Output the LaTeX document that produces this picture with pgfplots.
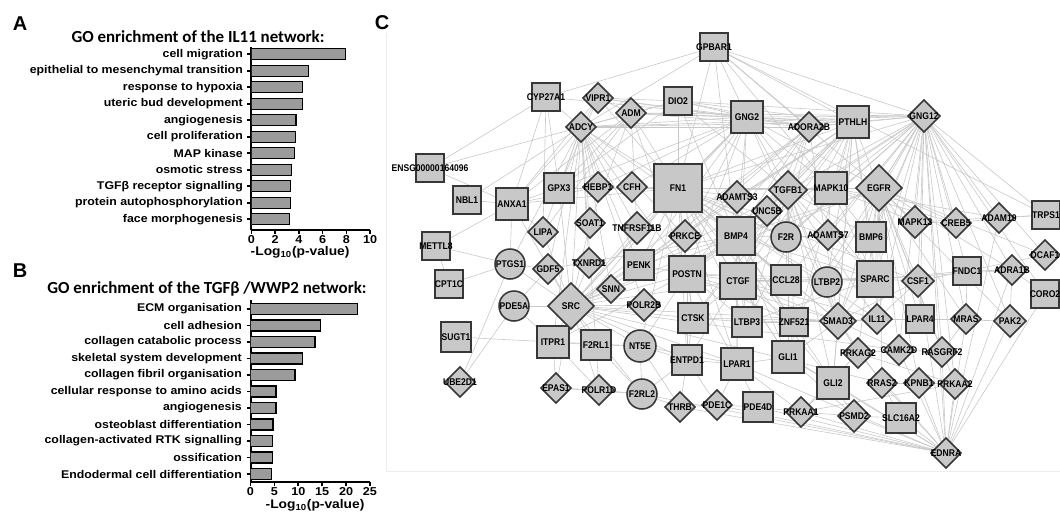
\documentclass[border=0pt]{standalone}
\usepackage{fontspec}
\setmainfont{Liberation Sans}
\newfontfamily\titlefont{Carlito}
\newfontfamily\barfam{Liberation Sans}[FakeStretch=1.1]
\newfontfamily\netfam{Liberation Sans}[FakeStretch=0.88]
\usepackage{pgfplots}
\usepackage{pgfplotstable}
\pgfplotsset{compat=1.18}
\definecolor{barcol}{RGB}{155,155,155}
\definecolor{nodefill}{RGB}{200,200,200}
\definecolor{nodedraw}{RGB}{55,55,55}
\definecolor{edgecol}{RGB}{200,200,200}
\newcommand\catfont{\barfam\bfseries\fontsize{8.4}{9}\selectfont}
\newcommand\tickfont{\barfam\bfseries\fontsize{8.6}{10}\selectfont}
\newcommand\xlabfont{\barfam\bfseries\fontsize{9.4}{10}\selectfont}
\newcommand\netfont{\netfam\bfseries\fontsize{7.3}{8}\selectfont}
\newcommand\letterfont{\bfseries\fontsize{15}{17}\selectfont}
\newcommand\ttlfont{\titlefont\bfseries\fontsize{12.7}{14}\selectfont}

% network nodes: x y (pixels), s = half size (px), label
\pgfplotstableread{
x y s label
546 97 14 CYP27A1
678 101 14 DIO2
747 117 16 GNG2
467 200 14 NBL1
512 204 16 ANXA1
559 188 15 GPX3
678 188 24 FN1
831 188 16 MAPK10
1046 215 14 TRPS1
736 236 19 BMP4
871 237 15 BMP6
449 284 14 CPT1C
639 265 15 PENK
687 274 18 POSTN
738 281 18 CTGF
786 280 15 CCL28
875 279 18 SPARC
967 271 14 FNDC1
693 318 15 CTSK
747 322 15 LTBP3
794 322 14 ZNF521
456 337 15 SUGT1
553 342 16 ITPR1
596 345 15 F2RL1
687 360 15 ENTPD1
737 364 16 LPAR1
788 357 16 GLI1
833 383 16 GLI2
758 407 15 PDE4D
901 418 15 SLC16A2
}\sqtab
\pgfplotstableread{
x y s label
714 47 14 GPBAR1
853 122 16 PTHLH
430 168 14 ENSG00000164096
436 246 14 METTL8
920 319 14 LPAR4
1045 294 14 CORO2
}\rsqtab
\pgfplotstableread{
x y s label
598 98 15 VIPR1
631 113 15 ADM
581 127 15 ADCY
809 127 15 ADORA2B
924 116 16 GNG12
598 187 15 HEBP1
632 187 15 CFH
737 197 16 ADAMTS3
788 190 19 TGFB1
767 211 15 UNC5B
879 188 23 EGFR
915 222 16 MAPK13
956 223 15 CREB5
999 218 15 ADAM19
543 232 15 LIPA
590 223 15 SOAT1
637 228 16 TNFRSF11B
685 236 16 PRKCE
828 235 15 ADAMTS7
1045 255 15 DCAF1
548 269 15 GDF5
589 263 15 TXNRD1
571 306 23 SRC
611 289 14 SNN
644 305 16 POLR2B
918 281 16 CSF1
1012 270 15 ADRA1B
838 321 18 SMAD3
877 319 15 IL11
966 319 15 MRAS
1010 321 16 PAK2
858 353 15 PRKAG2
899 350 15 CAMK2D
942 352 15 RASGRF2
882 383 15 RRAS2
919 383 15 KPNB1
955 384 15 PRKAA2
460 382 15 UBE2D1
556 388 15 EPAS1
599 390 15 POLR1D
680 407 15 THRB
717 405 15 PDE1C
801 412 15 PRKAA1
854 416 16 PSMD2
946 453 15 EDNRA
}\diatab
\pgfplotstableread{
x y s label
786 237 15 F2R
510 264 15 PTGS1
514 306 15 PDE5A
640 346 16 NT5E
642 394 15 F2RL2
827 282 15 LTBP2
}\cirtab
% network edges: from (x1,y1) to (x2,y2), pixels
\pgfplotstableread{
x1 y1 x2 y2
714 47 546 97
714 47 747 117
714 47 853 122
714 47 924 116
714 47 1046 215
714 47 581 127
714 47 678 188
714 47 809 127
714 47 831 188
714 47 736 236
714 47 879 188
546 97 430 168
546 97 512 204
546 97 559 188
546 97 581 127
546 97 543 232
546 97 747 117
430 168 581 127
924 116 831 188
924 116 879 188
924 116 915 222
924 116 956 223
924 116 999 218
924 116 1046 215
924 116 871 237
924 116 875 279
924 116 918 281
924 116 920 319
924 116 966 319
924 116 1010 321
924 116 877 319
924 116 838 321
924 116 967 271
924 116 1012 270
924 116 946 453
924 116 788 190
924 116 736 236
924 116 678 188
924 116 809 127
924 116 853 122
924 116 747 117
924 116 678 101
924 116 631 113
924 116 828 235
924 116 786 237
924 116 827 282
924 116 786 280
924 116 738 281
924 116 794 322
924 116 955 384
924 116 942 352
924 116 1045 255
924 116 899 350
924 116 581 127
924 116 687 274
924 116 1045 294
853 122 678 188
853 122 736 236
853 122 831 188
853 122 879 188
853 122 687 274
853 122 738 281
853 122 875 279
853 122 788 190
853 122 788 357
853 122 827 282
853 122 737 197
853 122 767 211
853 122 871 237
853 122 838 321
853 122 747 117
853 122 809 127
853 122 631 113
853 122 678 101
853 122 639 265
853 122 693 318
853 122 581 127
853 122 571 306
853 122 833 383
853 122 747 322
747 117 581 127
747 117 631 113
747 117 678 101
747 117 598 98
747 117 809 127
747 117 678 188
747 117 736 236
747 117 788 190
747 117 831 188
747 117 738 281
747 117 687 274
747 117 639 265
747 117 879 188
747 117 685 236
747 117 637 228
747 117 571 306
747 117 559 188
747 117 632 187
747 117 598 187
747 117 838 321
747 117 875 279
581 127 512 204
581 127 559 188
581 127 543 232
581 127 590 223
581 127 598 187
581 127 637 228
581 127 571 306
581 127 510 264
581 127 548 269
581 127 639 265
581 127 809 127
581 127 598 98
581 127 631 113
581 127 678 101
581 127 589 263
581 127 611 289
581 127 644 305
581 127 678 188
581 127 685 236
581 127 553 342
581 127 596 345
581 127 467 200
581 127 736 236
581 127 687 274
809 127 736 236
809 127 738 281
809 127 571 306
809 127 687 274
809 127 788 190
809 127 838 321
809 127 786 237
809 127 639 265
809 127 685 236
809 127 631 113
809 127 598 98
809 127 678 101
598 98 631 113
598 98 678 101
598 98 512 204
598 98 559 188
598 98 678 188
631 113 678 101
631 113 678 188
631 113 512 204
631 113 559 188
631 113 543 232
631 113 590 223
631 113 637 228
631 113 687 274
678 101 559 188
678 101 736 236
678 101 788 190
678 101 678 188
678 188 788 190
678 188 736 236
678 188 687 274
678 188 738 281
678 188 875 279
678 188 879 188
678 188 571 306
678 188 838 321
678 188 693 318
678 188 827 282
678 188 747 322
678 188 737 197
678 188 828 235
678 188 831 188
678 188 639 265
678 188 553 342
678 188 512 204
678 188 559 188
678 188 632 187
678 188 794 322
678 188 788 357
678 188 833 383
678 188 786 280
678 188 737 364
678 188 877 319
678 188 918 281
678 188 786 237
678 188 640 346
678 188 687 360
736 236 687 274
736 236 738 281
736 236 875 279
736 236 838 321
736 236 788 357
736 236 833 383
736 236 788 190
736 236 871 237
736 236 571 306
736 236 747 322
736 236 794 322
736 236 737 364
736 236 879 188
736 236 548 269
736 236 639 265
736 236 786 280
788 190 838 321
788 190 738 281
788 190 875 279
788 190 687 274
788 190 879 188
788 190 571 306
788 190 827 282
788 190 747 322
788 190 693 318
788 190 871 237
788 190 877 319
788 190 786 237
788 190 786 280
788 190 794 322
788 190 788 357
788 190 833 383
879 188 571 306
879 188 838 321
879 188 915 222
879 188 875 279
879 188 918 281
879 188 920 319
879 188 966 319
879 188 1010 321
879 188 877 319
879 188 942 352
879 188 956 223
879 188 1012 270
879 188 919 383
879 188 882 383
879 188 955 384
879 188 871 237
879 188 899 350
879 188 858 353
571 306 553 342
571 306 596 345
571 306 514 306
571 306 510 264
571 306 548 269
571 306 589 263
571 306 611 289
571 306 644 305
571 306 693 318
571 306 687 274
571 306 738 281
571 306 838 321
571 306 556 388
571 306 599 390
571 306 640 346
571 306 687 360
571 306 737 364
571 306 512 204
571 306 559 188
571 306 543 232
571 306 590 223
571 306 637 228
571 306 685 236
571 306 899 350
571 306 642 394
571 306 882 383
838 321 875 279
838 321 738 281
838 321 687 274
838 321 827 282
838 321 747 322
838 321 877 319
838 321 794 322
838 321 788 357
838 321 833 383
838 321 858 353
838 321 899 350
838 321 882 383
838 321 918 281
838 321 920 319
838 321 693 318
831 188 915 222
831 188 956 223
831 188 871 237
831 188 999 218
831 188 875 279
831 188 828 235
738 281 875 279
738 281 687 274
738 281 693 318
738 281 747 322
738 281 794 322
738 281 786 280
738 281 737 364
738 281 788 357
738 281 687 360
738 281 877 319
738 281 827 282
687 274 875 279
687 274 693 318
687 274 639 265
687 274 687 360
687 274 747 322
687 274 737 364
687 274 786 280
687 274 640 346
687 274 553 342
687 274 794 322
875 279 827 282
875 279 918 281
875 279 877 319
875 279 920 319
875 279 871 237
875 279 786 280
875 279 967 271
875 279 1012 270
875 279 747 322
946 453 854 416
946 453 901 418
946 453 801 412
946 453 758 407
946 453 833 383
946 453 882 383
946 453 919 383
946 453 955 384
946 453 1010 321
946 453 966 319
946 453 1012 270
946 453 918 281
946 453 642 394
946 453 680 407
946 453 717 405
946 453 737 364
946 453 942 352
946 453 899 350
946 453 858 353
946 453 999 218
946 453 1045 294
946 453 788 357
456 337 553 342
449 284 436 246
449 284 510 264
460 382 514 306
460 382 510 264
436 246 512 204
436 246 510 264
467 200 512 204
512 204 559 188
512 204 543 232
512 204 510 264
510 264 548 269
514 306 548 269
514 306 553 342
512 204 598 187
430 168 512 204
553 342 596 345
553 342 640 346
553 342 556 388
553 342 599 390
596 345 640 346
596 345 642 394
596 345 599 390
640 346 687 360
640 346 642 394
640 346 737 364
640 346 680 407
687 360 737 364
687 360 680 407
687 360 717 405
687 360 642 394
737 364 758 407
737 364 788 357
737 364 717 405
737 364 801 412
788 357 833 383
788 357 854 416
833 383 854 416
833 383 801 412
758 407 801 412
758 407 717 405
801 412 854 416
854 416 901 418
901 418 882 383
858 353 899 350
899 350 942 352
942 352 966 319
882 383 919 383
919 383 955 384
955 384 858 353
801 412 955 384
858 353 801 412
642 394 680 407
680 407 717 405
599 390 556 388
556 388 642 394
599 390 642 394
693 318 747 322
693 318 687 360
747 322 794 322
794 322 788 357
1045 294 1012 270
1045 255 879 188
1045 255 967 271
1012 270 967 271
1012 270 1010 321
967 271 918 281
967 271 966 319
956 223 999 218
956 223 915 222
999 218 1046 215
966 319 920 319
1010 321 920 319
920 319 877 319
920 319 918 281
918 281 877 319
1046 215 915 222
}\edgetab

\pgfplotsset{
  netmarks/.style={only marks, scatter, forget plot,
    point meta=\thisrow{s},
    scatter/use mapped color={draw=nodedraw, fill=nodefill},
    visualization depends on={#1*\thisrow{s} \as \ms},
    scatter/@pre marker code/.append style={/tikz/mark size=\ms pt}},
  netlabels/.style={draw=none, mark=none, forget plot,
    point meta=explicit symbolic, nodes near coords,
    every node near coord/.append style={anchor=center, font=\netfont, text=black, inner sep=0pt}},
  barax/.style={scale only axis, anchor=south west,
    axis lines*=left, axis line style={line width=1.5pt, black},
    tick align=outside, major tick length=3pt,
    tick style={black, line width=1.2pt},
    ytick={0,...,10},
    yticklabel style={font=\catfont},
    xticklabel style={font=\tickfont, inner sep=1pt},
    /pgf/number format/assume math mode=true,
    xlabel style={font=\xlabfont, inner sep=0pt, anchor=north}},
  barplot/.style={xbar, bar width=8.25pt, fill=barcol, draw=black, line width=1pt}
}

\begin{document}
\begin{tikzpicture}
% ---------- canvas and network (C) ----------
\begin{axis}[at={(0,0)}, anchor=north west, scale only axis,
  width=795pt, height=384pt, hide axis, clip=false,
  xmin=0, xmax=1060, ymin=0, ymax=512, y dir=reverse]
\draw[black!7, line width=0.6pt] (axis cs:386,33) -- (axis cs:386,471) -- (axis cs:1062,471);
\addplot[forget plot, draw=edgecol, line width=0.45pt,
  quiver={u=\thisrow{x2}-\thisrow{x1}, v=\thisrow{y2}-\thisrow{y1}}]
  table[x=x1, y=y1] {\edgetab};
\addplot[netmarks=0.75, mark=square*, mark options={line width=1.15pt}] table[x=x,y=y] {\sqtab};
\addplot[netmarks=0.75, mark=square*, mark options={line width=1.15pt, rounded corners=2.5pt}] table[x=x,y=y] {\rsqtab};
\addplot[netmarks=0.53, mark=square*, mark options={line width=1.15pt, rotate=45}] table[x=x,y=y] {\diatab};
\addplot[netmarks=0.75, mark=*, mark options={line width=1.15pt}] table[x=x,y=y] {\cirtab};
\addplot[netlabels] table[x=x,y=y,meta=label] {\sqtab};
\addplot[netlabels] table[x=x,y=y,meta=label] {\rsqtab};
\addplot[netlabels] table[x=x,y=y,meta=label] {\diatab};
\addplot[netlabels] table[x=x,y=y,meta=label] {\cirtab};
% panel letters and titles
\node[font=\letterfont] at (axis cs:20,24) {A};
\node[font=\letterfont] at (axis cs:20,271) {B};
\node[font=\letterfont] at (axis cs:382,23) {C};
\node[font=\ttlfont] at (axis cs:198,37) {GO enrichment of the IL11 network:};
\node[font=\ttlfont] at (axis cs:207,289) {GO enrichment of the TGFβ /WWP2 network:};
\end{axis}

% ---------- A ----------
\begin{axis}[barax, at={(251.5*0.75pt,-230*0.75pt)},
  width=88.9pt, height=137.5pt,
  xmin=0, xmax=10, ymin=-0.65, ymax=10.46,
  xtick={0,2,4,6,8,10},
  yticklabels={face morphogenesis, protein autophosphorylation, TGFβ receptor signalling, osmotic stress, MAP kinase, cell proliferation, angiogenesis, uteric bud development, response to hypoxia, epithelial to mesenchymal transition, cell migration},
  xlabel={-Log\textsubscript{10}(p-value)},
  xlabel style={at={(axis description cs:0.41,0)}, yshift=-12.3pt}]
\addplot[barplot] coordinates {(3.2,0) (3.3,1) (3.3,2) (3.4,3) (3.6,4) (3.7,5) (3.75,6) (4.3,7) (4.3,8) (4.8,9) (7.95,10)};
\end{axis}

% ---------- B ----------
\begin{axis}[barax, at={(250.5*0.75pt,-482.3*0.75pt)},
  width=89.6pt, height=136.7pt,
  xmin=0, xmax=25, ymin=-0.5, ymax=10.545,
  xtick={0,5,10,15,20,25},
  yticklabels={Endodermal cell differentiation, ossification, collagen-activated RTK signalling, osteoblast differentiation, angiogenesis, cellular response to amino acids, collagen fibril organisation, skeletal system development, collagen catabolic process, cell adhesion, ECM organisation},
  xlabel={-Log\textsubscript{10}(p-value)},
  xlabel style={at={(axis description cs:0.54,0)}, yshift=-12.6pt}]
\addplot[barplot] coordinates {(4.45,0) (4.6,1) (4.6,2) (4.7,3) (5.35,4) (5.35,5) (9.3,6) (10.9,7) (13.5,8) (14.7,9) (22.4,10)};
\end{axis}

\pgfresetboundingbox
\path[use as bounding box] (0,0) rectangle (795pt,-384pt);
\end{tikzpicture}
\end{document}
